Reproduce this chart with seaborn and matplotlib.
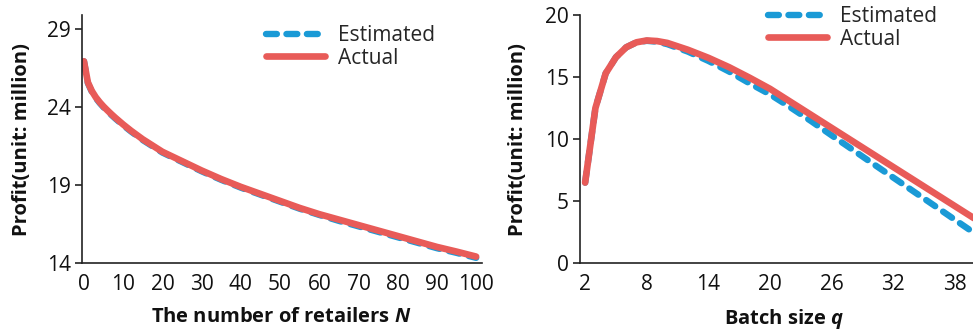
import matplotlib
matplotlib.use("Agg")
import matplotlib.pyplot as plt
import seaborn as sns
import pandas as pd

# Profit vs. number of retailers
retailers = [0, 1, 2, 3, 4, 5, 6, 7, 8, 10, 12, 15, 20, 25, 30, 35, 40, 45,
             50, 55, 60, 65, 70, 75, 80, 85, 90, 95, 100]
profit_n_actual = [26.95, 25.6, 25.05, 24.65, 24.33, 24.05, 23.8, 23.56, 23.33,
                   22.9, 22.5, 21.95, 21.15, 20.55, 19.95, 19.4, 18.9, 18.45,
                   18.0, 17.55, 17.15, 16.8, 16.45, 16.1, 15.75, 15.4, 15.05,
                   14.75, 14.43]
profit_n_estimated = [26.95, 25.55, 25.0, 24.6, 24.28, 24.0, 23.75, 23.51,
                      23.28, 22.85, 22.45, 21.9, 21.1, 20.5, 19.9, 19.35, 18.85,
                      18.4, 17.95, 17.5, 17.1, 16.72, 16.37, 16.02, 15.67,
                      15.32, 14.97, 14.67, 14.35]

# Profit vs. batch size
batch = [2, 3, 4, 5, 6, 7, 8, 9, 10, 12, 14, 16, 18, 20, 22, 24, 26, 28,
         30, 32, 34, 36, 38, 40]
profit_q_actual = [6.5, 12.5, 15.3, 16.6, 17.4, 17.8, 17.95, 17.9, 17.75, 17.2,
                   16.55, 15.8, 14.95, 14.05, 13.0, 11.95, 10.9, 9.85, 8.8,
                   7.75, 6.7, 5.65, 4.6, 3.55]
profit_q_estimated = [6.5, 12.5, 15.3, 16.6, 17.4, 17.8, 17.92, 17.85, 17.65,
                      17.05, 16.3, 15.45, 14.5, 13.6, 12.55, 11.45, 10.3, 9.17,
                      8.03, 6.9, 5.77, 4.64, 3.5, 2.37]

n_ticks = [0, 10, 20, 30, 40, 50, 60, 70, 80, 90, 100]
n_yticks = [14, 19, 24, 29]
q_ticks = [2, 8, 14, 20, 26, 32, 38]
q_yticks = [0, 5, 10, 15, 20]

sns.set_style("white")
plt.rcParams["font.family"] = ["Open Sans", "DejaVu Sans"]
plt.rcParams["mathtext.fontset"] = "custom"
plt.rcParams["mathtext.it"] = "Open Sans:italic:bold"
plt.rcParams["mathtext.rm"] = "Open Sans:bold"

BLUE = "#1a9ad6"
RED = "#e85b58"
AXC = "#222222"

fig = plt.figure(figsize=(9.73, 3.33), dpi=100)
ax1 = fig.add_axes([82 / 973, 1 - 263.3 / 333, 400 / 973, 248.3 / 333])
ax2 = fig.add_axes([580 / 973, 1 - 263.3 / 333, 393 / 973, 248.3 / 333])

df_n = pd.DataFrame({"N": retailers, "Estimated": profit_n_estimated,
                     "Actual": profit_n_actual})
df_q = pd.DataFrame({"q": batch, "Estimated": profit_q_estimated,
                     "Actual": profit_q_actual})

dash = dict(color=BLUE, linewidth=4.6, linestyle=(0, (1.7, 1.5)),
            dash_capstyle="round", solid_capstyle="round")
solid = dict(color=RED, linewidth=4.8, solid_capstyle="round",
             solid_joinstyle="round")

sns.lineplot(data=df_n, x="N", y="Estimated", ax=ax1, label="Estimated", **dash)
sns.lineplot(data=df_n, x="N", y="Actual", ax=ax1, label="Actual", **solid)
sns.lineplot(data=df_q, x="q", y="Estimated", ax=ax2, label="Estimated", **dash)
sns.lineplot(data=df_q, x="q", y="Actual", ax=ax2, label="Actual", **solid)

ax1.set_xlim(-0.5, 101.5)
ax1.set_ylim(14, 29.92)
ax1.set_xticks(n_ticks)
ax1.set_yticks(n_yticks)
ax2.set_xlim(1.5, 39.75)
ax2.set_ylim(0, 20)
ax2.set_xticks(q_ticks)
ax2.set_yticks(q_yticks)

for ax in (ax1, ax2):
    sns.despine(ax=ax)
    for s in ("left", "bottom"):
        ax.spines[s].set_color(AXC)
        ax.spines[s].set_linewidth(1.2)
    ax.tick_params(axis="y", direction="out", length=5, width=1.2, color=AXC,
                   labelsize=15, pad=3, left=True)
    ax.tick_params(axis="x", length=0, labelsize=15, pad=8, bottom=True)
    for lab in ax.get_xticklabels() + ax.get_yticklabels():
        lab.set_color("#111111")
    ax.set_ylabel("Profit(unit: million)", fontsize=14.5, fontweight="bold",
                  color="#111111")
    ax.grid(False)

ax1.set_xlabel(r"The number of retailers $N$", fontsize=14.5,
               fontweight="bold", color="#111111")
ax2.set_xlabel(r"Batch size $q$", fontsize=14.5, fontweight="bold",
               color="#111111")
ax1.xaxis.set_label_coords(0.499, -0.175)
ax2.xaxis.set_label_coords(0.518, -0.175)
ax1.yaxis.set_label_coords(-0.126, 0.5)
ax2.yaxis.set_label_coords(-0.132, 0.5)

leg_kw = dict(frameon=False, fontsize=15, handlelength=2.85, handletextpad=0.6,
              labelspacing=0.08, borderpad=0, borderaxespad=0,
              loc="upper left", bbox_transform=fig.transFigure)
ax1.legend(bbox_to_anchor=(266 / 973, 1 - 25 / 333), **leg_kw)
ax2.legend(bbox_to_anchor=(768 / 973, 1 - 6 / 333), **leg_kw)

fig.savefig("out.png", dpi=100)
